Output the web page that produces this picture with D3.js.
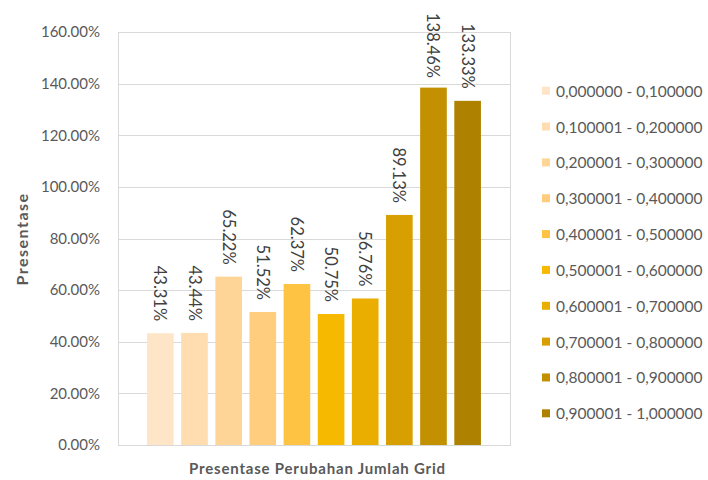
<!DOCTYPE html>
<html>
<head>
    <meta charset="utf-8">
    <title>Presentase Perubahan Jumlah Grid</title>
    <script src="https://d3js.org/d3.v7.min.js"></script>
    <style>
        body { margin: 0; background: #fff; }
        text { font-family: Lato, "Open Sans", sans-serif; }
    </style>
</head>
<body>
    <svg width="708" height="480"></svg>

    <script>
        // data
        var ranges = ["0,000000 - 0,100000", "0,100001 - 0,200000", "0,200001 - 0,300000",
            "0,300001 - 0,400000", "0,400001 - 0,500000", "0,500001 - 0,600000",
            "0,600001 - 0,700000", "0,700001 - 0,800000", "0,800001 - 0,900000",
            "0,900001 - 1,000000"];
        var values = [0.4331, 0.4344, 0.6522, 0.5152, 0.6237, 0.5075, 0.5676, 0.8913, 1.3846, 1.3333];
        var colors = ["#FFE5C7", "#FFDDB0", "#FFD597", "#FFCD7D", "#FFC343",
            "#F7B900", "#EAAE00", "#D89F00", "#C39000", "#AE8200"];
        var yTicks = [0, 0.2, 0.4, 0.6, 0.8, 1.0, 1.2, 1.4, 1.6];

        var svg = d3.select("svg");

        var plot = { left: 118, right: 510, top: 32, bottom: 445 };

        var y = d3.scaleLinear()
            .domain([0, 1.6])
            .range([plot.bottom, plot.top]);

        var x = d3.scaleBand()
            .domain(ranges)
            .range([143.3, 484.7])
            .paddingInner(0.22)
            .paddingOuter(0.11);

        var color = d3.scaleOrdinal()
            .domain(ranges)
            .range(colors);

        var fmt = d3.format(".2%");

        // gridlines
        svg.append("g")
            .selectAll("line")
            .data(yTicks)
            .enter().append("line")
            .attr("x1", plot.left)
            .attr("x2", plot.right)
            .attr("y1", function(d) { return Math.round(y(d)) + 0.5; })
            .attr("y2", function(d) { return Math.round(y(d)) + 0.5; })
            .attr("stroke", "#d9d9d9")
            .attr("stroke-width", 1);

        // plot border sides
        svg.append("rect")
            .attr("x", plot.left + 0.5)
            .attr("y", Math.round(y(1.6)) + 0.5)
            .attr("width", plot.right - plot.left)
            .attr("height", Math.round(y(0)) - Math.round(y(1.6)))
            .attr("fill", "none")
            .attr("stroke", "#d9d9d9");

        // y axis labels
        var yAxis = svg.append("g")
            .attr("transform", "translate(" + plot.left + ",0)")
            .call(d3.axisLeft(y).tickValues(yTicks).tickFormat(fmt).tickSize(0).tickPadding(18));
        yAxis.select(".domain").remove();
        yAxis.selectAll("text")
            .attr("fill", "#595959")
            .attr("font-size", "15px")
            .style("font-family", "Lato, 'Open Sans', sans-serif");

        // bars
        svg.append("g")
            .selectAll("rect")
            .data(values)
            .enter().append("rect")
            .attr("x", function(d, i) { return x(ranges[i]); })
            .attr("y", function(d) { return y(d); })
            .attr("width", x.bandwidth())
            .attr("height", function(d) { return y(0) - y(d); })
            .attr("fill", function(d, i) { return color(ranges[i]); });

        // data labels, rotated, above each bar
        svg.append("g")
            .selectAll("text")
            .data(values)
            .enter().append("text")
            .attr("fill", "#404040")
            .attr("font-size", "16.5px")
            .attr("text-anchor", "start")
            .attr("dominant-baseline", "central")
            .text(function(d) { return fmt(d); })
            .attr("transform", function(d, i) {
                var len = this.getComputedTextLength();
                var top = Math.max(13, y(d) - 12 - len);
                return "translate(" + (x(ranges[i]) + x.bandwidth() / 2) + "," + top + ") rotate(90)";
            });

        // axis titles
        svg.append("text")
            .attr("x", 317.5)
            .attr("y", 474)
            .attr("text-anchor", "middle")
            .attr("fill", "#595959")
            .attr("font-size", "15px")
            .attr("letter-spacing", "0.8px")
            .attr("font-weight", "bold")
            .text("Presentase Perubahan Jumlah Grid");

        svg.append("text")
            .attr("transform", "translate(28,239) rotate(-90)")
            .attr("text-anchor", "middle")
            .attr("fill", "#595959")
            .attr("font-size", "16px")
            .attr("letter-spacing", "1.5px")
            .attr("font-weight", "bold")
            .text("Presentase");

        // legend
        var ly = d3.scalePoint()
            .domain(ranges)
            .range([90.7, 413.3]);

        var legend = svg.append("g")
            .selectAll("g")
            .data(ranges)
            .enter().append("g")
            .attr("transform", function(d) { return "translate(542," + ly(d) + ")"; });

        legend.append("rect")
            .attr("x", 0)
            .attr("y", -4)
            .attr("width", 8)
            .attr("height", 8)
            .attr("fill", function(d) { return color(d); });

        legend.append("text")
            .attr("x", 14)
            .attr("dominant-baseline", "central")
            .attr("fill", "#595959")
            .attr("font-size", "15.5px")
            .text(function(d) { return d; });
    </script>
</body>
</html>
